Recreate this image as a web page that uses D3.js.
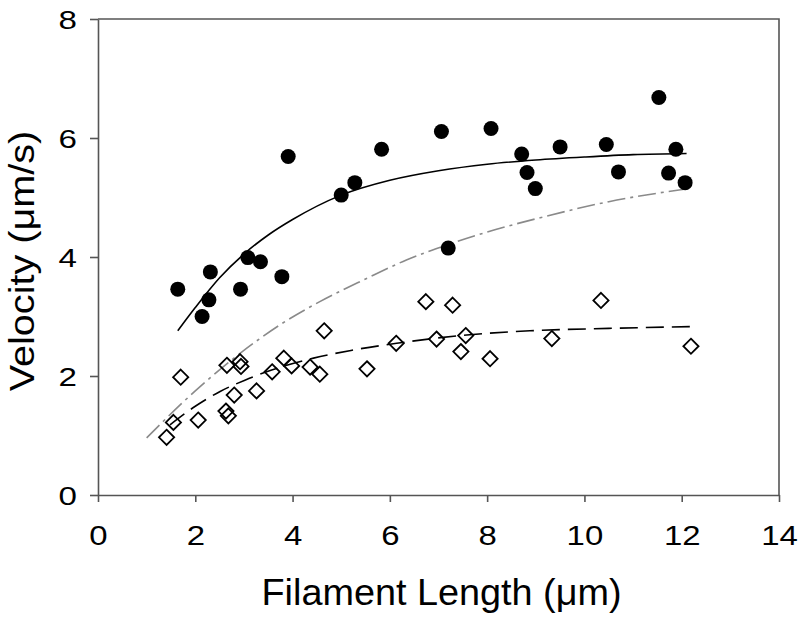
<!DOCTYPE html>
<html>
<head>
<meta charset="utf-8">
<script src="https://cdn.jsdelivr.net/npm/d3@7"></script>
<style>
  html, body { margin: 0; padding: 0; background: #fff; }
  svg { display: block; }
  text { font-family: "Liberation Sans", Arial, Helvetica, sans-serif; fill: #000; }
</style>
</head>
<body>
<svg id="chart" width="800" height="622"></svg>
<script>
// Filled circles (series 1)
const filledLength = [1.64, 2.14, 2.28, 2.31, 2.93, 3.08, 3.34, 3.78, 3.91, 5.00, 5.28, 5.83, 7.06, 7.20, 8.08, 8.71, 8.82, 8.99, 9.50, 10.45, 10.70, 11.53, 11.73, 11.88, 12.07];
const filledVelocity = [3.46, 3.00, 3.28, 3.75, 3.46, 3.99, 3.92, 3.67, 5.69, 5.04, 5.25, 5.81, 6.11, 4.15, 6.16, 5.73, 5.42, 5.15, 5.85, 5.89, 5.43, 6.68, 5.41, 5.81, 5.25];

// Open diamonds (series 2)
const openLength = [1.41, 1.55, 1.70, 2.06, 2.63, 2.65, 2.68, 2.80, 2.92, 2.94, 3.26, 3.58, 3.82, 3.98, 4.36, 4.56, 4.65, 5.53, 6.13, 6.74, 6.96, 7.29, 7.46, 7.56, 8.06, 9.33, 10.34, 12.19];
const openVelocity = [0.97, 1.22, 1.98, 1.26, 1.41, 2.18, 1.33, 1.68, 2.24, 2.16, 1.75, 2.07, 2.30, 2.17, 2.15, 2.03, 2.76, 2.12, 2.55, 3.25, 2.62, 3.19, 2.41, 2.68, 2.29, 2.63, 3.27, 2.50];

// Fitted curves
const solidFitX = [1.64, 2.0, 2.5, 3.0, 3.5, 4.0, 5.0, 6.0, 7.0, 8.0, 9.0, 10.0, 11.0, 12.1];
const solidFitY = [2.76, 3.15, 3.65, 4.05, 4.37, 4.63, 5.04, 5.29, 5.45, 5.56, 5.63, 5.68, 5.72, 5.74];
const dashFitX = [1.48, 1.96, 2.51, 3.02, 3.57, 4.43, 5.2, 6.14, 7.58, 8.88, 10.5, 12.2];
const dashFitY = [1.18, 1.47, 1.74, 1.93, 2.10, 2.30, 2.43, 2.55, 2.69, 2.76, 2.80, 2.83];
const dashDotFitX = [1.0, 2.0, 2.92, 3.74, 4.56, 5.5, 6.34, 7.2, 8.0, 9.09, 10.5, 12.05];
const dashDotFitY = [0.96, 1.75, 2.38, 2.86, 3.25, 3.63, 3.95, 4.21, 4.42, 4.66, 4.93, 5.14];

const xTicks = [0, 2, 4, 6, 8, 10, 12, 14];
const yTicks = [0, 2, 4, 6, 8];
const xTitle = "Filament Length (\u03bcm)";
const yTitle = "Velocity (\u03bcm/s)";

(function () {
const svg = d3.select("#chart");
const mLeft = 98, mRight = 779, mTop = 19, mBottom = 495;
const x = d3.scaleLinear().domain([0, 14]).range([mLeft, mRight]);
const y = d3.scaleLinear().domain([0, 8]).range([mBottom, mTop]);
const axisColor = "#555";

// frame (top and right)
svg.append("path")
  .attr("d", `M${mLeft},${mTop}H${mRight}V${mBottom}`)
  .attr("fill", "none").attr("stroke", axisColor).attr("stroke-width", 1.6);

// axes
const xAxis = svg.append("g").attr("transform", `translate(0,${mBottom})`)
  .call(d3.axisBottom(x).tickValues(xTicks).tickSizeInner(7).tickSizeOuter(0).tickPadding(24).tickFormat(d3.format("d")));
const yAxis = svg.append("g").attr("transform", `translate(${mLeft},0)`)
  .call(d3.axisLeft(y).tickValues(yTicks).tickSizeInner(8).tickSizeOuter(0).tickPadding(13).tickFormat(d3.format("d")));
[xAxis, yAxis].forEach(g => {
  g.select(".domain").attr("stroke", axisColor).attr("stroke-width", 1.6);
  g.selectAll(".tick line").attr("stroke", axisColor).attr("stroke-width", 1.6);
  g.selectAll(".tick text").attr("fill", "#000")
    .style("font-family", '"Liberation Sans", Arial, sans-serif');
});
const sx = 1.22, sy = 1.3;
xAxis.selectAll(".tick text").attr("font-size", 27).attr("transform", `scale(${sx},1)`);
yAxis.selectAll(".tick text").attr("font-size", 25.5).attr("dy", "0.36em")
  .attr("x", -21 / sy).attr("transform", `scale(${sy},1)`);

// curves
const line = d3.line().x(d => x(d[0])).y(d => y(d[1])).curve(d3.curveMonotoneX);
svg.append("path").datum(dashDotFitX.map((v, i) => [v, dashDotFitY[i]]))
  .attr("d", line).attr("fill", "none").attr("stroke", "#8a8a8a").attr("stroke-width", 1.6)
  .attr("stroke-dasharray", "18,5,3,5");
svg.append("path").datum(dashFitX.map((v, i) => [v, dashFitY[i]]))
  .attr("d", line).attr("fill", "none").attr("stroke", "#000").attr("stroke-width", 1.6)
  .attr("stroke-dasharray", "18,8");
svg.append("path").datum(solidFitX.map((v, i) => [v, solidFitY[i]]))
  .attr("d", line).attr("fill", "none").attr("stroke", "#000").attr("stroke-width", 1.6);

// open diamonds
const dsz = 7.6;
svg.append("g").selectAll("path").data(openLength.map((v, i) => [v, openVelocity[i]]))
  .join("path")
  .attr("d", d => { const cx = x(d[0]), cy = y(d[1]); return `M${cx},${cy - dsz}L${cx + dsz},${cy}L${cx},${cy + dsz}L${cx - dsz},${cy}Z`; })
  .attr("fill", "none").attr("stroke", "#000").attr("stroke-width", 1.8);

// filled circles
svg.append("g").selectAll("circle").data(filledLength.map((v, i) => [v, filledVelocity[i]]))
  .join("circle")
  .attr("cx", d => x(d[0])).attr("cy", d => y(d[1])).attr("r", 7.5).attr("fill", "#000");

// titles
svg.append("text").attr("transform", `translate(${(mLeft + mRight) / 2 + 3},605) scale(1.05,1)`)
  .attr("text-anchor", "middle").attr("font-size", 36).text(xTitle);
svg.append("text").attr("transform", `translate(34,261) rotate(-90) scale(1.1,1)`)
  .attr("text-anchor", "middle").attr("font-size", 36).text(yTitle);
})();
</script>
</body>
</html>
